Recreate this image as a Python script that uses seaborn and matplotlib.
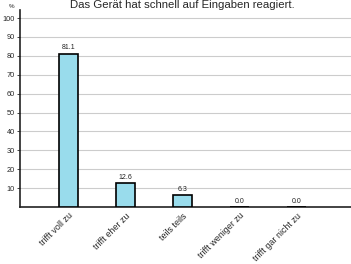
import pandas as pd
import matplotlib
matplotlib.use("Agg")
import matplotlib.pyplot as plt
import seaborn as sns

categories = ["trifft voll zu", "trifft eher zu", "teils teils", "trifft weniger zu", "trifft gar nicht zu"]
values = [81.1, 12.6, 6.3, 0.0, 0.0]
yticks = [10, 20, 30, 40, 50, 60, 70, 80, 90, 100]
title = "Das Gerät hat schnell auf Eingaben reagiert."


def main():
    sns.set_style("white")
    plt.rcParams["font.family"] = ["Liberation Sans", "DejaVu Sans"]

    df = pd.DataFrame({"cat": categories, "val": values})

    fig = plt.figure(figsize=(3.51, 2.64), dpi=100)
    ax = fig.add_axes([20 / 351, 57 / 264, 331 / 351, 197.5 / 264])

    sns.barplot(data=df, x="cat", y="val", color="#99dcec", saturation=1,
                edgecolor="black", linewidth=1.2, width=0.33, ax=ax, zorder=3)

    for i, v in enumerate(values):
        ax.text(i, v + 1.2, f"{v:.1f}", ha="center", va="bottom", fontsize=5, color="#222222")

    ax.set_xlim(-0.85, 4.96)
    ax.set_ylim(0, 104.5)
    ax.set_yticks(yticks)
    ax.set_yticklabels([str(t) for t in yticks], fontsize=5.3)
    ax.yaxis.grid(True, color="#cccccc", linewidth=0.8, zorder=0)
    ax.set_xticks(range(len(categories)))
    ax.set_xticklabels(categories, rotation=45, ha="right", rotation_mode="anchor", fontsize=6.4)
    ax.tick_params(axis="x", length=0, pad=3)
    ax.tick_params(axis="y", length=2, width=0.6, pad=1.5, left=True)
    ax.set_xlabel("")
    ax.set_ylabel("")

    for s in ["top", "right"]:
        ax.spines[s].set_visible(False)
    for s in ["left", "bottom"]:
        ax.spines[s].set_color("#222222")
        ax.spines[s].set_linewidth(1.2)

    fig.text(12 / 351, 1 - 6 / 264, "%", fontsize=4.5, ha="center", va="center")
    fig.text(182 / 351, 1.0, title, fontsize=8.2, ha="center", va="top")

    fig.savefig("out.png", dpi=100)


if __name__ == "__main__":
    main()
